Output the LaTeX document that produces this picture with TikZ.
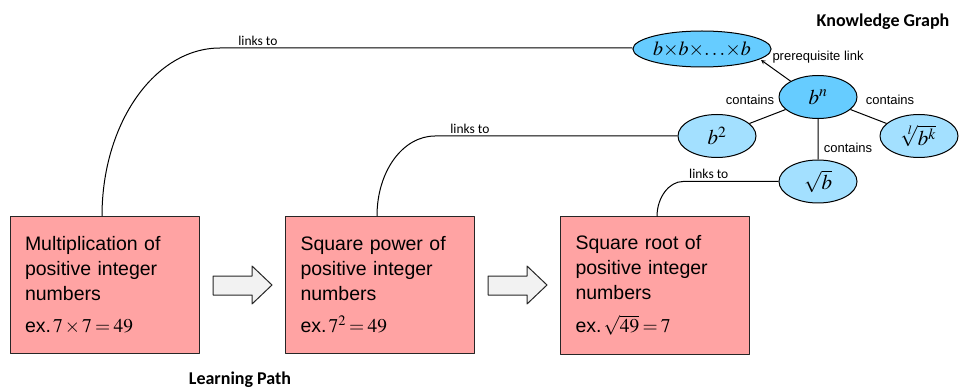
\documentclass[tikz,border=0pt]{standalone}
\usepackage{mathptmx}
\usepackage{fontspec}
\setmainfont{Liberation Sans}
\newfontfamily\calibri{Carlito}
\usetikzlibrary{shapes.geometric}
\definecolor{boxpink}{HTML}{FFA3A3}
\definecolor{nodeblue}{HTML}{66CCFF}
\definecolor{leafblue}{HTML}{A3E0FF}
\definecolor{arrowgray}{HTML}{F2F2F2}
\newcommand{\tmul}{\mskip2mu{\times}\mskip2mu}
\newcommand{\teq}{\mskip3mu{=}\mskip3mu}
\tikzset{
	topic/.style={draw=black!85, fill=boxpink, minimum width=189, minimum height=137,
		text width=159, inner sep=0, align=left, font=\fontsize{19.5}{25}\selectfont},
	concept/.style={ellipse, draw=black, fill=nodeblue, minimum width=78, minimum height=43,
		inner sep=0, font=\fontsize{21}{21}\selectfont},
	leaf/.style={concept, fill=leafblue},
	note/.style={inner sep=0, font=\fontsize{13}{13}\selectfont},
	linklabel/.style={inner sep=2, font=\calibri\fontsize{13.5}{13.5}\selectfont},
	heading/.style={inner sep=0, font=\calibri\bfseries\fontsize{18}{18}\selectfont}
}
\begin{document}
\begin{tikzpicture}[x=1pt, y=-1pt, >=stealth, line join=round, line width=1pt]
	\useasboundingbox (0,0) rectangle (964,390);
	%% Learning path
	\node[topic] (mult) at (104.5,285) {Multiplication of\\positive integer\\numbers\\[7pt]ex.\hspace{2pt}$7\tmul7\teq49$};
	\node[topic] (sqpow) at (380,285) {Square power of\\positive integer\\numbers\\[7pt]ex.\hspace{2pt}$7^2\teq49$};
	\node[topic] (sqroot) at (655,285.5) {Square root of\\positive integer\\numbers\\[8pt]ex.\hspace{2pt}$\sqrt{49}\teq7$};
	\foreach \x in {213,488}
	\draw[draw=black!85, fill=arrowgray] (\x,276) -- (\x+39,276) -- (\x+39,266) -- (\x+59,285)
		-- (\x+39,304) -- (\x+39,295) -- (\x,295) -- cycle;
	\node[heading] (lp) at (240,380) {Learning Path};
	%% Knowledge graph
	\node[heading] (kg) at (883,22) {Knowledge Graph};
	\node[concept, minimum width=115, minimum height=36, font=\fontsize{20}{20}\selectfont] (bbb) at (702,49)
		{$b{\times}b{\times}{\ldotp\ldotp\ldotp}{\times}b$};
	\node[concept] (bn) at (818,97) {$b^n$};
	\node[leaf] (bsq) at (717,136) {$b^2$};
	\node[leaf] (broot) at (919,136) {$\sqrt[l]{b^k}$};
	\node[leaf] (bsqrt) at (818,181.5) {$\sqrt{b}$};
	\coordinate (pre) at (761,60);
	\draw[->] (bn.150) -- (pre);
	\node[note, anchor=west] at (772,57) {prerequisite link};
	\draw (bn) -- (bsq) (bn) -- (broot) (bn) -- (bsqrt);
	\node[note] at (750,100) {contains};
	\node[note] at (890,100) {contains};
	\node[note] at (848,148) {contains};
	%% Links
	\coordinate (kink1) at (220,48);
	\coordinate (kink2) at (435,136);
	\coordinate (kink3) at (683,181.5);
	\draw ([xshift=-2.5pt]mult.north) .. controls +(0,-93) and +(-65,0) .. (kink1)
		-- node[linklabel, above, pos=0.092] {links to} (bbb.west |- kink1);
	\draw ([xshift=-3pt]sqpow.north) .. controls +(0,-45) and +(-32,0) .. (kink2)
		-- node[linklabel, above, pos=0.144] {links to} (bsq.west);
	\draw ([xshift=2pt]sqroot.north) .. controls +(0,-19) and +(-14,0) .. (kink3)
		-- node[linklabel, above, pos=0.27] {links to} (bsqrt.west);
\end{tikzpicture}
\end{document}
